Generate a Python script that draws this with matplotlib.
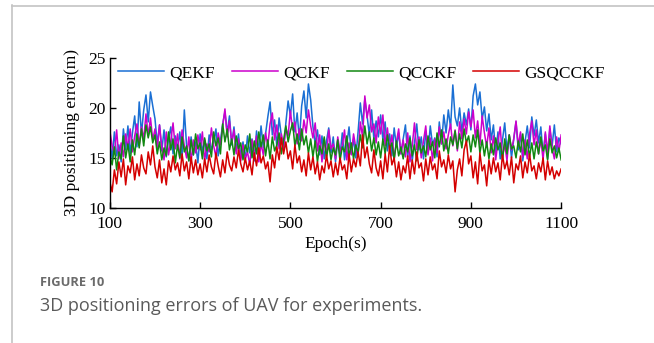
import numpy as np
import matplotlib
matplotlib.use("Agg")
import matplotlib.pyplot as plt
from matplotlib.lines import Line2D

# epochs sampled every 5 s
epochs = np.arange(100, 1101, 5)

qekf = [
    16.8, 14.9, 17.6, 15.2, 16.3, 14.6, 17.9, 15.8, 18.2, 15.4,
    17.5, 19.2, 16.1, 20.6, 17.4, 19.8, 21.3, 18.6, 21.6, 20.2,
    18.9, 16.4, 18.3, 15.7, 17.8, 15.1, 16.9, 18.1, 15.4, 17.2,
    15.9, 17.6, 15.0, 19.8, 16.2, 14.7, 17.1, 15.3, 16.6, 14.5,
    17.4, 15.6, 16.8, 14.9, 17.3, 15.8, 16.5, 17.9, 15.2, 16.7,
    18.4, 19.6, 17.5, 19.2, 16.3, 18.1, 15.7, 17.4, 15.1, 16.6,
    14.8, 17.2, 15.5, 16.9, 14.7, 17.7, 15.6, 18.2, 16.0, 17.4,
    19.1, 20.6, 17.3, 18.8, 16.1, 19.0, 17.2, 15.8, 18.5, 20.7,
    19.2, 21.4, 17.6, 19.5, 16.8, 20.2, 21.7, 19.0, 22.4, 20.8,
    18.1, 16.4, 17.8, 15.3, 17.2, 14.9, 16.7, 18.0, 15.5, 17.1,
    14.6, 16.8, 15.2, 17.5, 14.8, 16.3, 18.1, 15.4, 16.9, 15.0,
    17.6, 20.5, 18.4, 20.9, 19.2, 17.3, 19.8, 16.9, 18.7, 17.1,
    19.3, 16.8, 18.6, 15.7, 17.4, 15.2, 18.0, 16.1, 17.5, 15.4,
    16.9, 18.3, 15.1, 17.2, 14.7, 16.5, 18.4, 15.8, 17.1, 14.9,
    17.7, 15.5, 18.2, 16.3, 17.0, 15.1, 18.6, 16.4, 19.3, 17.5,
    19.8, 18.0, 22.3, 19.1, 18.2, 20.0, 17.6, 19.5, 18.3, 19.9,
    17.8, 21.2, 22.4, 20.3, 21.6, 18.9, 20.1, 17.7, 19.4, 16.8,
    18.3, 15.4, 17.6, 14.9, 16.8, 18.5, 15.7, 17.3, 15.0, 16.9,
    18.6, 15.8, 17.4, 14.7, 16.6, 18.2, 16.0, 19.1, 17.2, 18.8,
    16.5, 18.1, 15.3, 17.4, 14.9, 17.9, 16.2, 18.3, 15.6, 17.0,
    16.4,
]

qckf = [
    17.7, 16.2, 15.4, 17.8, 14.9, 16.5, 15.1, 17.4, 16.0, 17.9,
    15.6, 17.2, 18.4, 16.3, 18.1, 16.9, 19.4, 17.2, 19.0, 16.8,
    17.9, 15.8, 18.3, 16.1, 14.8, 17.6, 15.3, 16.7, 18.5, 15.9,
    17.4, 14.9, 17.8, 16.2, 15.0, 17.1, 14.6, 16.8, 15.5, 17.3,
    15.8, 17.6, 14.7, 16.4, 15.6, 18.0, 16.2, 15.1, 17.5, 16.3,
    18.2, 19.9, 17.1, 18.7, 16.5, 17.8, 15.4, 16.9, 14.7, 16.3,
    14.9, 15.6, 14.3, 16.8, 15.1, 17.2, 14.6, 16.4, 15.3, 17.5,
    16.2, 18.4, 19.5, 16.8, 18.3, 15.9, 17.4, 16.1, 18.0, 17.2,
    19.7, 17.8, 18.6, 16.4, 17.9, 16.7, 18.8, 17.5, 19.8, 18.2,
    17.0, 18.5, 15.7, 17.3, 14.6, 16.9, 15.2, 17.8, 15.9, 16.4,
    14.9, 17.1, 15.6, 16.2, 17.8, 14.8, 16.5, 15.3, 17.4, 16.0,
    15.2, 18.6, 17.1, 21.2, 19.0, 20.3, 17.6, 18.4, 16.5, 19.1,
    17.4, 19.3, 16.2, 18.0, 15.8, 17.3, 14.9, 16.6, 17.9, 15.4,
    16.8, 15.1, 17.5, 14.6, 16.2, 18.5, 15.8, 17.1, 15.0, 16.7,
    18.2, 15.3, 17.0, 14.7, 16.9, 15.5, 18.1, 16.4, 17.6, 15.9,
    17.3, 18.4, 16.2, 17.8, 15.7, 18.6, 16.9, 18.9, 17.4, 19.6,
    18.1, 19.8, 17.0, 18.7, 16.3, 19.2, 17.5, 16.1, 18.0, 15.5,
    17.2, 14.8, 16.6, 18.1, 15.0, 16.4, 14.7, 17.3, 15.8, 16.9,
    18.7, 16.2, 17.6, 15.1, 16.8, 14.9, 17.4, 18.7, 16.3, 17.8,
    15.4, 16.9, 14.8, 17.6, 15.5, 18.2, 16.0, 14.9, 17.1, 15.6,
    17.3,
]

qcckf = [
    15.2, 14.3, 16.1, 13.8, 15.6, 14.9, 17.2, 15.0, 16.4, 14.6,
    16.8, 15.3, 17.4, 16.0, 17.9, 16.2, 18.3, 17.0, 18.1, 16.5,
    17.3, 15.4, 16.6, 14.8, 16.0, 15.2, 17.6, 15.8, 16.9, 14.5,
    16.3, 15.0, 17.1, 15.6, 16.2, 14.7, 16.8, 15.3, 17.4, 15.9,
    16.5, 14.9, 17.0, 15.7, 16.4, 15.1, 17.6, 16.2, 17.0, 15.4,
    18.4, 16.6, 17.9, 15.8, 16.9, 15.3, 17.2, 15.9, 16.5, 14.8,
    16.3, 15.6, 17.4, 15.0, 16.7, 15.4, 17.6, 16.1, 17.3, 15.2,
    16.8, 14.9, 17.1, 15.7, 16.3, 17.5, 15.4, 16.8, 18.2, 16.6,
    17.7, 18.5, 16.2, 17.4, 15.8, 17.9, 16.3, 17.2, 15.5, 16.9,
    15.1, 16.7, 14.6, 16.2, 15.4, 17.1, 15.0, 16.4, 14.8, 16.0,
    15.3, 16.8, 14.7, 16.1, 15.6, 17.2, 15.1, 16.5, 14.9, 16.3,
    15.5, 17.3, 16.0, 18.2, 16.4, 17.6, 15.7, 17.0, 15.3, 16.6,
    15.0, 16.9, 15.4, 17.3, 15.9, 16.5, 14.8, 16.7, 15.2, 16.1,
    14.9, 16.4, 15.6, 17.0, 15.2, 16.3, 14.7, 16.8, 15.5, 16.2,
    15.1, 17.2, 15.8, 16.6, 15.0, 17.5, 16.1, 17.8, 15.7, 16.9,
    15.4, 17.1, 16.3, 17.7, 15.9, 17.4, 16.0, 17.9, 16.5, 17.2,
    15.6, 17.3, 16.1, 17.8, 15.5, 16.8, 15.2, 16.6, 14.9, 16.4,
    15.3, 17.0, 15.8, 16.5, 14.8, 16.9, 15.4, 17.3, 15.9, 16.2,
    15.0, 16.7, 15.6, 17.4, 15.3, 16.8, 15.1, 16.5, 14.9, 16.6,
    15.4, 17.1, 15.7, 16.3, 14.8, 16.9, 15.5, 16.2, 15.0, 16.0,
    14.8,
]

gsqcckf = [
    12.6, 11.6, 13.8, 12.4, 14.6, 13.1, 14.9, 12.3, 14.2, 13.5,
    15.1, 12.8, 14.4, 13.2, 15.3, 14.0, 13.4, 15.6, 14.3, 16.2,
    14.1, 13.0, 14.8, 12.5, 13.9, 12.3, 14.7, 13.6, 15.2, 13.8,
    14.5, 13.2, 15.4, 13.7, 14.6, 12.9, 15.1, 13.5, 14.8, 13.3,
    14.4, 13.0, 14.9, 13.6, 15.3, 14.1, 13.4, 15.5, 14.2, 13.1,
    14.8, 13.5, 15.6, 14.3, 13.7, 15.1, 14.0, 15.8, 14.4, 13.6,
    15.0, 13.8, 14.7, 13.3, 15.5, 14.2, 16.0, 14.5, 15.2, 13.9,
    14.6, 12.6, 15.3, 14.0, 16.1, 14.8, 17.0, 15.4, 16.6, 14.9,
    15.7, 13.9, 16.3, 14.5, 15.2, 13.6, 14.8, 13.2, 15.5, 13.8,
    15.1, 13.4, 14.6, 12.8, 14.2, 13.5, 15.3, 13.9, 14.7, 13.1,
    14.5, 13.3, 15.0, 13.8, 14.3, 12.9, 15.4, 13.6, 14.9, 14.1,
    15.6, 14.2, 17.3, 15.0, 16.1, 14.4, 13.5, 15.8, 14.0, 13.2,
    14.7, 12.9, 15.4, 13.6, 16.2, 14.3, 15.0, 13.1, 14.6, 12.8,
    14.2, 13.5, 15.2, 12.9, 14.8, 13.4, 15.6, 14.0, 14.5, 12.7,
    14.9, 13.3, 15.1, 13.8, 14.4, 12.9, 15.7, 14.1, 14.8, 13.5,
    15.3, 13.9, 14.7, 11.6, 13.8, 14.9, 13.2, 15.8, 16.7, 14.4,
    15.2, 13.0, 14.6, 12.4, 15.5, 13.7, 14.3, 12.2, 14.8, 13.4,
    15.0, 13.6, 14.5, 12.8, 15.3, 13.9, 14.7, 13.3, 15.1, 12.5,
    14.4, 13.8, 15.2, 13.0, 14.6, 13.5, 15.4, 13.7, 14.2, 12.9,
    14.5, 13.6, 15.0, 12.8, 14.7, 13.3, 14.1, 12.9, 13.7, 13.2,
    13.9,
]

names = ['QEKF', 'QCKF', 'QCCKF', 'GSQCCKF']
colors = ['#1a6fd4', '#cc00cc', '#118811', '#d40000']
xticks = [100, 300, 500, 700, 900, 1100]
yticks = [10, 15, 20, 25]

serif = ['Liberation Serif', 'DejaVu Serif']

fig = plt.figure(figsize=(6.54, 3.43), dpi=100)
ax = fig.add_axes([0.168, 0.394, 0.690, 0.437])

for series, name, c in zip([qekf, qckf, qcckf, gsqcckf], names, colors):
    ax.plot(epochs, series, color=c, lw=1.1, label=name)

ax.set_xlim(100, 1100)
ax.set_ylim(10, 25)
ax.set_xticks(xticks)
ax.set_yticks(yticks)
ax.tick_params(direction='in', length=4, width=1, labelsize=12.5)
ax.tick_params(axis='x', pad=6)
ax.tick_params(axis='y', pad=3)
for lab in ax.get_xticklabels() + ax.get_yticklabels():
    lab.set_family(serif)
for s in ['top', 'right']:
    ax.spines[s].set_visible(False)
for s in ['left', 'bottom']:
    ax.spines[s].set_linewidth(1.0)

ax.set_xlabel('Epoch(s)', fontsize=12.5, family=serif, labelpad=3)
ax.set_ylabel('3D positioning error(m)', fontsize=12.5, family=serif, labelpad=6)

handles = [Line2D([0], [0], color=c, lw=1.1) for c in colors]
ax.legend(handles, names, loc='upper left', bbox_to_anchor=(0.003, 1.0),
          ncol=4, frameon=False, prop={'family': serif, 'size': 12.5},
          handlelength=2.65, handletextpad=0.3, columnspacing=0.98,
          borderaxespad=0.2, borderpad=0.2)

# panel frame lines
fig.add_artist(Line2D([12 / 654, 12 / 654], [0, 1 - 5 / 343], color='#c4c4c4', lw=1.2))
fig.add_artist(Line2D([12 / 654, 1], [1 - 6 / 343, 1 - 6 / 343], color='#c4c4c4', lw=1.2))

# caption
fig.text(40 / 654, 1 - 283 / 343, 'FIGURE 10', fontsize=9.3, color='#6b6b6b',
         family='Open Sans', fontweight='bold', va='center')
fig.text(40 / 654, 1 - 306 / 343, '3D positioning errors of UAV for experiments.',
         fontsize=13, color='#5a5a5a', family='Open Sans', va='center')

fig.savefig('out.png', dpi=100)
